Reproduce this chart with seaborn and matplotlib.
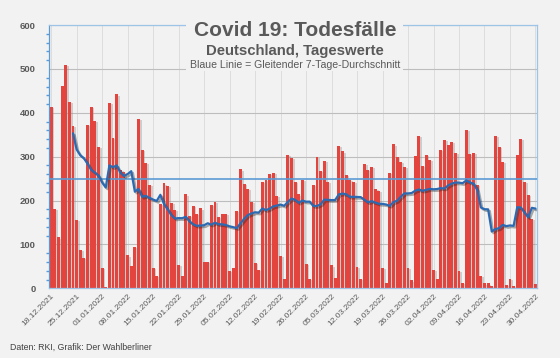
import numpy as np
import pandas as pd
import matplotlib
matplotlib.use("Agg")
import matplotlib.pyplot as plt
import seaborn as sns
from matplotlib import patheffects as pe
from matplotlib.patches import Rectangle
from matplotlib.ticker import MultipleLocator

# ---------------- data ----------------
start_date = "2021-12-18"
deaths = [
    414, 180, 116, 461, 509, 424, 370, 156, 87, 69,
    372, 413, 382, 322, 46, 4, 422, 343, 442, 270,
    266, 75, 51, 94, 387, 316, 286, 235, 47, 29,
    192, 239, 233, 195, 178, 54, 28, 214, 165, 188,
    170, 182, 59, 60, 191, 197, 163, 169, 170, 39,
    47, 176, 271, 237, 227, 197, 58, 41, 242, 246,
    260, 263, 210, 74, 21, 305, 298, 242, 214, 246,
    56, 22, 235, 299, 267, 290, 242, 52, 24, 324,
    312, 258, 248, 242, 49, 22, 284, 269, 277, 226,
    222, 47, 12, 263, 328, 299, 288, 277, 47, 18,
    301, 347, 278, 303, 292, 41, 22, 316, 339, 327,
    334, 309, 39, 13, 360, 307, 308, 235, 28, 11,
    11, 5, 347, 322, 288, 8, 22, 5, 303, 341,
    242, 213, 158, 10,
]
tick_labels = [
    "18.12.2021", "25.12.2021", "01.01.2022", "08.01.2022", "15.01.2022",
    "22.01.2022", "29.01.2022", "05.02.2022", "12.02.2022", "19.02.2022",
    "26.02.2022", "05.03.2022", "12.03.2022", "19.03.2022", "26.03.2022",
    "02.04.2022", "09.04.2022", "16.04.2022", "23.04.2022", "30.04.2022",
]
tick_step = 7
avg_window = 7
reference_level = 250
y_ticks = [0, 100, 200, 300, 400, 500, 600]

title = "Covid 19: Todesfälle"
subtitle = "Deutschland, Tageswerte"
note = "Blaue Linie = Gleitender 7-Tage-Durchschnitt"
footer = "Daten: RKI, Grafik: Der Wahlberliner"

# ---------------- frame ----------------
df = pd.DataFrame({"pos": np.arange(len(deaths)), "deaths": deaths})
df["avg"] = df["deaths"].rolling(avg_window).mean()

sns.set_theme(style="white")
plt.rcParams["font.family"] = ["Liberation Sans", "DejaVu Sans"]

BG = "#F2F2F2"
TXT = "#595959"
W, H = 560, 358
fig = plt.figure(figsize=(5.6, 3.58), dpi=100, facecolor=BG)
L, R, T, B = 49.3, 537.3, 25.1, 288.3
ax = fig.add_axes([L / W, 1 - B / H, (R - L) / W, (B - T) / H])
ax.set_facecolor(BG)

sns.barplot(data=df, x="pos", y="deaths", color="#E3453E", saturation=1,
            width=0.8, linewidth=0, ax=ax, zorder=2)
for p in ax.patches:
    p.set_path_effects([pe.SimplePatchShadow(offset=(1.3, -0.8),
                                             shadow_rgbFace="#8a8a8a", alpha=0.35),
                        pe.Normal()])

ax.axhline(reference_level, color="#5B9BD5", lw=1.2, zorder=3)

sns.lineplot(data=df, x="pos", y="avg", color="#2B6AB2", lw=1.6, ax=ax, zorder=4,
             path_effects=[pe.SimpleLineShadow(offset=(1.2, -1.2), alpha=0.35),
                           pe.Normal()])

n = len(deaths)
ax.set_xlim(-0.5, n - 0.5)
ax.set_ylim(0, 600)
ax.set_xlabel("")
ax.set_ylabel("")

ax.set_xticks(np.arange(0, n, tick_step)[:len(tick_labels)])
ax.set_xticklabels(tick_labels, rotation=45, ha="right", rotation_mode="anchor",
                   fontsize=6, color=TXT)
ax.set_yticks(y_ticks)
ax.set_yticklabels([str(v) for v in y_ticks], fontsize=6.8, color=TXT,
                   fontweight="bold")
ax.yaxis.set_minor_locator(MultipleLocator(20))

ax.tick_params(axis="x", length=0, pad=3)
ax.tick_params(axis="y", which="major", direction="out", length=3,
               color="#5B9BD5", pad=7)
ax.tick_params(axis="y", which="minor", direction="out", length=2,
               color="#5B9BD5", left=True)

ax.set_axisbelow(True)
ax.grid(axis="y", color="#BDBDBD", lw=0.8)
ax.grid(axis="x", color="#DADADA", lw=0.6)

for side in ["top", "right", "bottom"]:
    ax.spines[side].set_color("#9DC3E6")
    ax.spines[side].set_linewidth(0.9)
ax.spines["left"].set_color("#5B9BD5")
ax.spines["left"].set_linewidth(0.9)

# title block with background mask over frame / grid line
fig.patches.append(Rectangle((186 / W, 1 - 71 / H), (403 - 186) / W, (71 - 10) / H,
                             transform=fig.transFigure, facecolor=BG,
                             edgecolor="none", zorder=5))
cx = 295 / W
fig.text(cx, 1 - 35.5 / H, title, ha="center", va="baseline", fontsize=15,
         fontweight="bold", color=TXT, zorder=6)
fig.text(cx, 1 - 54.5 / H, subtitle, ha="center", va="baseline", fontsize=10.7,
         fontweight="bold", color=TXT, zorder=6)
fig.text(cx, 1 - 67.5 / H, note, ha="center", va="baseline", fontsize=7.6,
         color=TXT, zorder=6)

fig.text(10 / W, 1 - 350 / H, footer, ha="left", va="baseline", fontsize=6.3,
         color="#404040")

fig.savefig("out.png", dpi=100, facecolor=BG)
